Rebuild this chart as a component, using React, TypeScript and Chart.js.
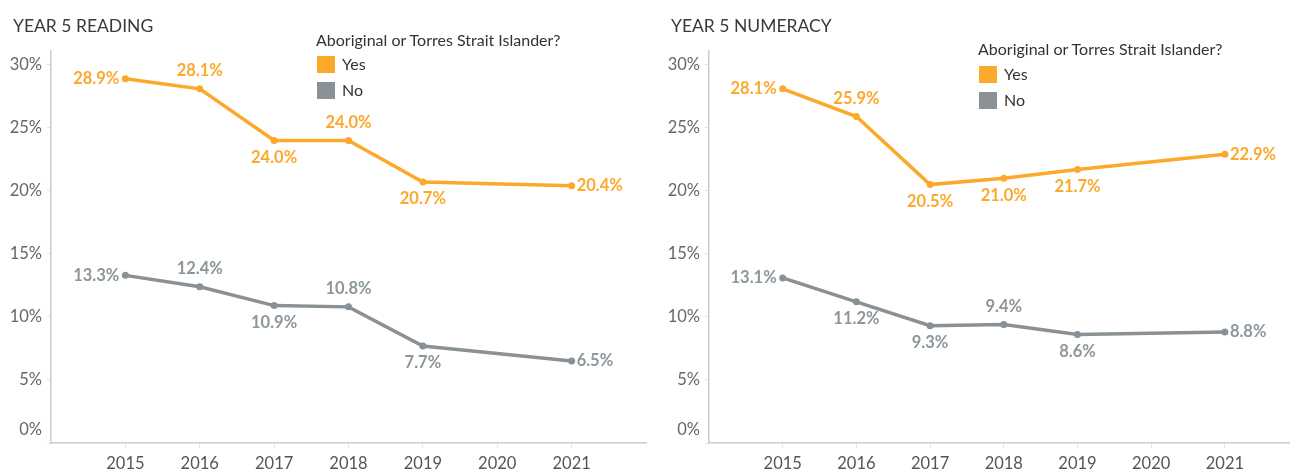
import React, { useEffect, useRef } from 'react';
import { Chart, registerables } from 'chart.js';

Chart.register(...registerables);

// ---- data ----
const years = [2015, 2016, 2017, 2018, 2019, 2021];
const axisYears = [2015, 2016, 2017, 2018, 2019, 2020, 2021];
const yTickValues = [0, 5, 10, 15, 20, 25, 30];

const readingYes = [28.9, 28.1, 24.0, 24.0, 20.7, 20.4];
const readingNo = [13.3, 12.4, 10.9, 10.8, 7.7, 6.5];
const numeracyYes = [28.1, 25.9, 20.5, 21.0, 21.7, 22.9];
const numeracyNo = [13.1, 11.2, 9.3, 9.4, 8.6, 8.8];

const seriesNames = ['Yes', 'No'];
const legendTitle = 'Aboriginal or Torres Strait Islander?';
const panelTitles = ['YEAR 5 READING', 'YEAR 5 NUMERACY'];

// label placement for each point
const readingYesPlace = ['left', 'above', 'below', 'above', 'below', 'right'];
const readingNoPlace = ['left', 'above', 'below', 'above', 'below', 'right'];
const numeracyYesPlace = ['left', 'above', 'below', 'below', 'below', 'right'];
const numeracyNoPlace = ['left', 'below', 'below', 'above', 'below', 'right'];

const ORANGE = '#FCA82B';
const GREY = '#899196';
const GREY_LABEL = '#8C969B';
const FONT = 'Lato, "Open Sans", sans-serif';

const pointLabelPlugin = {
  id: 'pointLabelPlugin',
  afterDatasetsDraw(chart: any) {
    const ctx = chart.ctx;
    ctx.save();
    ctx.font = `bold 16.5px ${FONT}`;
    ctx.textBaseline = 'middle';
    chart.data.datasets.forEach((ds: any, i: number) => {
      const meta = chart.getDatasetMeta(i);
      ctx.fillStyle = ds.labelColor;
      meta.data.forEach((pt: any, j: number) => {
        const v = ds.data[j].y;
        const txt = v.toFixed(1) + '%';
        const place = ds.labelPlace[j];
        let x = pt.x;
        let y = pt.y;
        if (place === 'left') {
          ctx.textAlign = 'right';
          x -= 6;
        } else if (place === 'right') {
          ctx.textAlign = 'left';
          x += 5;
        } else if (place === 'above') {
          ctx.textAlign = 'center';
          y -= 18;
        } else {
          ctx.textAlign = 'center';
          y += 17;
        }
        ctx.fillText(txt, x, y);
      });
    });
    ctx.restore();
  },
};

const yLabelPlugin = {
  id: 'yLabelPlugin',
  afterDraw(chart: any) {
    const ctx = chart.ctx;
    const scale = chart.scales.y;
    ctx.save();
    ctx.font = `16.5px ${FONT}`;
    ctx.fillStyle = '#666666';
    ctx.textAlign = 'right';
    ctx.textBaseline = 'middle';
    yTickValues.forEach((v) => {
      let y = scale.getPixelForValue(v);
      if (v === 0) y -= 13;
      ctx.fillText(v + '%', chart.chartArea.left - 9, y);
    });
    ctx.restore();
  },
};

function Panel(props: {
  yes: number[];
  no: number[];
  yesPlace: string[];
  noPlace: string[];
  width: number;
  yAxisWidth: number;
  xMax: number;
  padRight: number;
}) {
  const ref = useRef<HTMLCanvasElement>(null);
  useEffect(() => {
    if (!ref.current) return;
    const chart = new Chart(ref.current, {
      type: 'line',
      data: {
        datasets: [
          {
            label: seriesNames[0],
            data: years.map((x, i) => ({ x, y: props.yes[i] })),
            borderColor: ORANGE,
            backgroundColor: ORANGE,
            borderWidth: 3.5,
            pointRadius: 3.5,
            pointBorderWidth: 0,
            tension: 0,
            labelColor: ORANGE,
            labelPlace: props.yesPlace,
          } as any,
          {
            label: seriesNames[1],
            data: years.map((x, i) => ({ x, y: props.no[i] })),
            borderColor: GREY,
            backgroundColor: GREY,
            borderWidth: 3.5,
            pointRadius: 3.5,
            pointBorderWidth: 0,
            tension: 0,
            labelColor: GREY_LABEL,
            labelPlace: props.noPlace,
          } as any,
        ],
      },
      options: {
        animation: false,
        responsive: false,
        layout: { padding: { top: 51, right: props.padRight, left: 0, bottom: 0 } },
        plugins: { legend: { display: false }, tooltip: { enabled: false } },
        scales: {
          x: {
            type: 'linear',
            min: 2014,
            max: props.xMax,
            afterBuildTicks: (s: any) => {
              s.ticks = axisYears.map((v) => ({ value: v }));
            },
            afterFit: (s: any) => {
              s.height = 30;
            },
            ticks: {
              callback: (v: any) => String(v),
              font: { family: FONT, size: 16.5 },
              color: '#555555',
              padding: 6,
              maxRotation: 0,
              autoSkip: false,
            },
            grid: { drawOnChartArea: false, drawTicks: true, tickLength: 5, color: '#e4e4e4' },
            border: { display: true, color: '#cccccc', width: 1.5 },
          },
          y: {
            type: 'linear',
            min: 0,
            max: 31.1,
            afterBuildTicks: (s: any) => {
              s.ticks = yTickValues.map((v) => ({ value: v }));
            },
            afterFit: (s: any) => {
              s.width = props.yAxisWidth;
            },
            ticks: { display: false },
            grid: { drawOnChartArea: false, drawTicks: true, tickLength: 4, color: '#e4e4e4' },
            border: { display: true, color: '#cccccc', width: 1.5 },
          },
        },
      } as any,
      plugins: [pointLabelPlugin, yLabelPlugin],
    });
    return () => chart.destroy();
  }, []);
  return <canvas ref={ref} width={props.width} height={473} style={{ display: 'block' }} />;
}

function Legend(props: { left: number; titleY: number; yesY: number; noY: number }) {
  const common: React.CSSProperties = {
    position: 'absolute',
    fontFamily: FONT,
    fontSize: 16,
    color: '#333333',
    lineHeight: '20px',
    whiteSpace: 'nowrap',
  };
  const sw = (color: string, cy: number): React.CSSProperties => ({
    position: 'absolute',
    left: props.left + 1,
    top: cy - 8,
    width: 18,
    height: 17,
    background: color,
  });
  return (
    <>
      <div style={{ ...common, left: props.left, top: props.titleY - 10 }}>{legendTitle}</div>
      <div style={sw(ORANGE, props.yesY)} />
      <div style={{ ...common, left: props.left + 26, top: props.yesY - 10 }}>{seriesNames[0]}</div>
      <div style={sw(GREY, props.noY)} />
      <div style={{ ...common, left: props.left + 26, top: props.noY - 10 }}>{seriesNames[1]}</div>
    </>
  );
}

export default function App() {
  const titleStyle: React.CSSProperties = {
    position: 'absolute',
    top: 16,
    fontFamily: FONT,
    fontSize: 17.5,
    lineHeight: '20px',
    color: '#3a3a3a',
    whiteSpace: 'nowrap',
  };
  return (
    <div style={{ position: 'fixed', left: 0, top: 0, width: 1293, height: 473, background: '#ffffff', overflow: 'hidden' }}>
      <div style={{ position: 'absolute', left: 0, top: 0 }}>
        <Panel
          yes={readingYes}
          no={readingNo}
          yesPlace={readingYesPlace}
          noPlace={readingNoPlace}
          width={650}
          yAxisWidth={51}
          xMax={2022}
          padRight={4}
        />
      </div>
      <div style={{ position: 'absolute', left: 650, top: 0 }}>
        <Panel
          yes={numeracyYes}
          no={numeracyNo}
          yesPlace={numeracyYesPlace}
          noPlace={numeracyNoPlace}
          width={643}
          yAxisWidth={59}
          xMax={2021.87}
          padRight={0}
        />
      </div>
      <div style={{ ...titleStyle, left: 13 }}>{panelTitles[0]}</div>
      <div style={{ ...titleStyle, left: 671 }}>{panelTitles[1]}</div>
      <Legend left={316} titleY={40} yesY={64} noY={90} />
      <Legend left={978} titleY={49} yesY={74} noY={100} />
    </div>
  );
}
